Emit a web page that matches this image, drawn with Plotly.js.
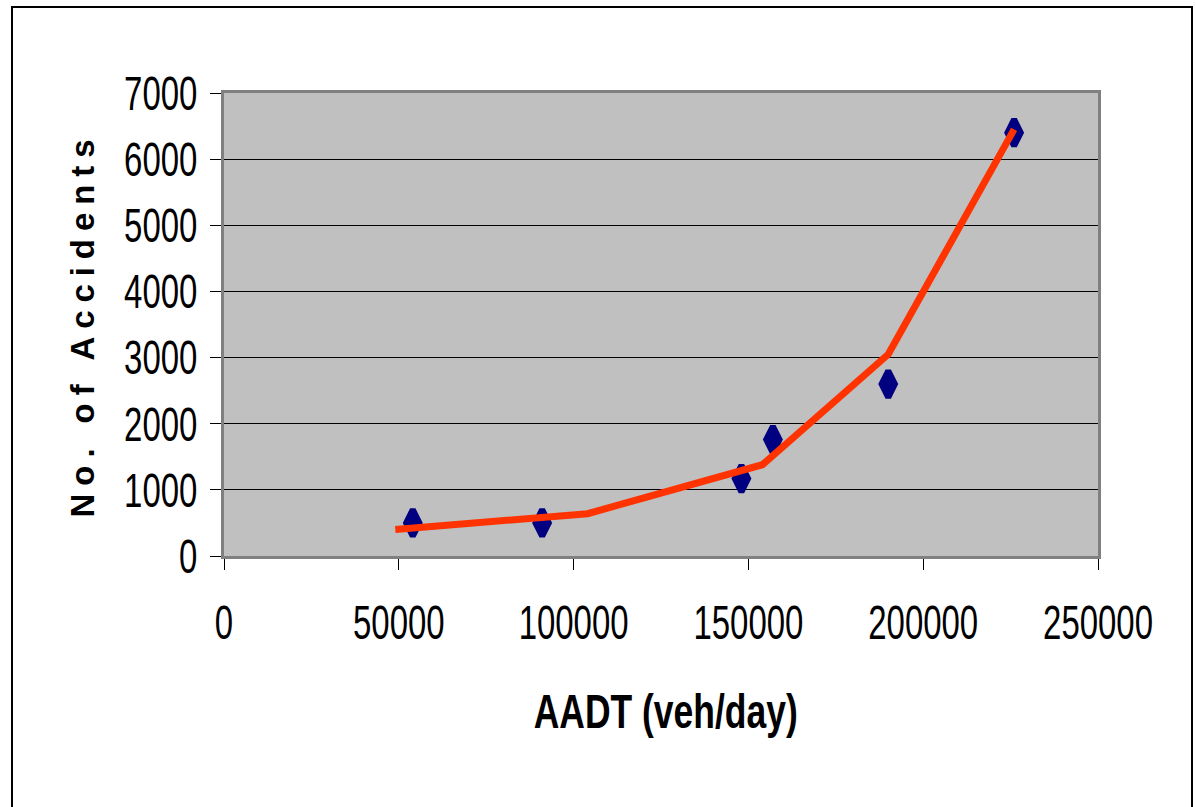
<!DOCTYPE html>
<html>
<head>
<meta charset="utf-8">
<script src="https://cdn.plot.ly/plotly-3.0.1.min.js"></script>
<style>
  html, body { margin: 0; padding: 0; background: #fff; }
  #chart { width: 1196px; height: 807px; }
</style>
</head>
<body>
<div id="chart"></div>
<script>
// Observed data (markers)
const aadtObserved = [54000, 91000, 148000, 157000, 190000, 226000];
const accidentsObserved = [500, 500, 1170, 1760, 2600, 6400];

// Model / fitted line
const aadtModel = [49000, 104000, 154000, 190000, 226000];
const accidentsModel = [400, 640, 1380, 3050, 6450];

const xTickVals = [0, 50000, 100000, 150000, 200000, 250000];
const xTickText = ["0", "50000", "100000", "150000", "200000", "250000"];
const yTickVals = [0, 1000, 2000, 3000, 4000, 5000, 6000, 7000];
const yTickText = ["0", "1000", "2000", "3000", "4000", "5000", "6000", "7000"];

const xTitle = 'AADT (veh/day)';
const yTitle = 'No. of Accidents';

const font = "Liberation Sans, Arial, sans-serif";

const traces = [
  {
    x: aadtObserved, y: accidentsObserved,
    type: 'scatter', mode: 'markers',
    marker: { symbol: 'diamond-tall', size: 19, color: '#000080',
              line: { color: '#000080', width: 6 } },
    showlegend: false, hoverinfo: 'x+y'
  },
  {
    x: aadtModel, y: accidentsModel,
    type: 'scatter', mode: 'lines',
    line: { color: '#FF3300', width: 7 },
    showlegend: false, hoverinfo: 'x+y'
  }
];

// plot area in pixels: x 224..1098, y 93..556
const pw = 874, ph = 463;
const px = v => (v - 224) / pw;
const py = v => (556 - v) / ph;

const layout = {
  width: 1196, height: 807,
  margin: { l: 224, r: 98, t: 93, b: 251 },
  paper_bgcolor: '#ffffff',
  plot_bgcolor: '#C0C0C0',
  showlegend: false,
  xaxis: {
    range: [0, 250000],
    tickmode: 'array', tickvals: xTickVals, ticktext: xTickText,
    ticks: 'outside', ticklen: 11, tickcolor: '#000', tickwidth: 1,
    ticklabelstandoff: 11,
    showgrid: false, zeroline: false,
    showline: true, linecolor: '#808080', linewidth: 3, mirror: true,
    tickfont: { family: font, size: 48, color: '#000' }
  },
  yaxis: {
    range: [0, 7000],
    tickmode: 'array', tickvals: yTickVals, ticktext: yTickText,
    ticks: 'outside', ticklen: 11, tickcolor: '#000', tickwidth: 1,
    ticklabelstandoff: 3,
    showgrid: true, gridcolor: '#000', gridwidth: 1,
    zeroline: false,
    showline: true, linecolor: '#808080', linewidth: 3, mirror: true,
    tickfont: { family: font, size: 48, color: '#000' }
  },
  annotations: [
    { text: xTitle, xref: 'paper', yref: 'paper', x: px(665), y: py(711),
      xanchor: 'center', yanchor: 'middle', showarrow: false,
      font: { family: font, size: 48, color: '#000', weight: 'bold' } },
    { text: yTitle, xref: 'paper', yref: 'paper', x: px(82), y: py(329),
      xanchor: 'center', yanchor: 'middle', showarrow: false, textangle: -90,
      font: { family: font, size: 33, color: '#000', weight: 'bold' } }
  ],
  shapes: [
    { type: 'rect', xref: 'paper', yref: 'paper',
      x0: px(12), x1: px(1192), y0: py(820), y1: py(7),
      line: { color: '#000', width: 2 }, fillcolor: 'rgba(0,0,0,0)', layer: 'below' }
  ]
};

function squeeze(el, factor, mode) {
  const w = el.getComputedTextLength();
  el.setAttribute('textLength', (w * factor).toFixed(1));
  el.setAttribute('lengthAdjust', mode);
}
function setLength(el, len, mode) {
  el.setAttribute('textLength', len);
  el.setAttribute('lengthAdjust', mode);
}

Plotly.newPlot('chart', traces, layout, { displayModeBar: false, staticPlot: true })
  .then(gd => {
    gd.querySelectorAll('.xtick text, .ytick text').forEach(t => squeeze(t, 0.686, 'spacingAndGlyphs'));
    const ann = gd.querySelectorAll('.annotation-text');
    ann.forEach(t => {
      if (t.textContent === xTitle) setLength(t, 264, 'spacingAndGlyphs');
      if (t.textContent === yTitle) setLength(t, 378, 'spacing');
    });
  });
</script>
</body>
</html>
